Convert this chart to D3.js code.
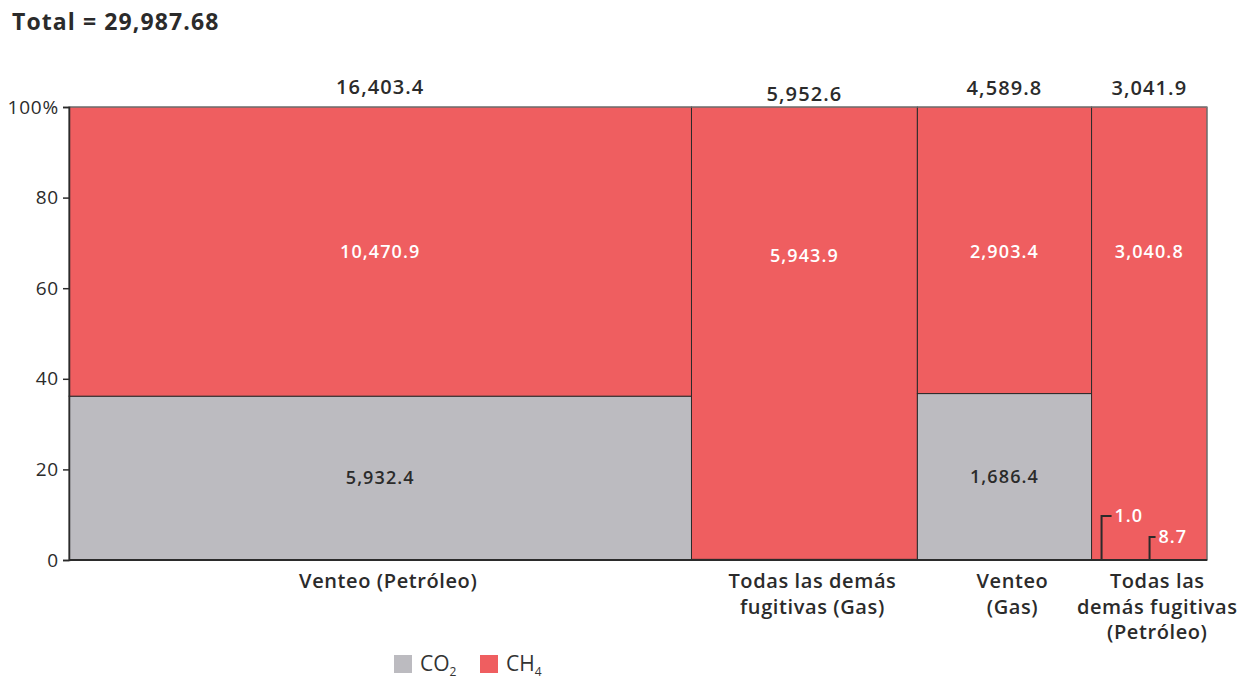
<!DOCTYPE html>
<html><head><meta charset="utf-8">
<script src="https://cdn.jsdelivr.net/npm/d3@7"></script>
<style>
body{margin:0;background:#fff;}
text{font-family:"Open Sans","Noto Sans",sans-serif;}
</style></head>
<body><svg id="c" width="1251" height="681"></svg>
<script>
const categories = [["Venteo (Petróleo)"], ["Todas las demás", "fugitivas (Gas)"], ["Venteo", "(Gas)"], ["Todas las", "demás fugitivas", "(Petróleo)"]];
const totals = [16403.4, 5952.6, 4589.8, 3041.9];
const co2 = [5932.4, 8.7, 1686.4, 1.0];
const ch4 = [10470.9, 5943.9, 2903.4, 3040.8];
const yTicks = [0, 20, 40, 60, 80, 100];
const grandTotal = "29,987.68";

const RED = "#ef5e60", GREY = "#bcbbc0", DARK = "#2b2b2b";
const svg = d3.select("#c");
const L = 69, R = 1207, T = 107, B = 560;
const sumT = d3.sum(totals);
const x = d3.scaleLinear().domain([0, sumT]).range([L, R]);
const y = d3.scaleLinear().domain([0, 100]).range([B, T]);
const cum = [0]; totals.forEach((t, i) => cum.push(cum[i] + t));
const fmt = d3.format(",.1f");

svg.append("text").attr("x", 12).attr("y", 30).attr("font-size", 23).attr("font-weight", 700)
  .attr("letter-spacing", 1.1).attr("fill", DARK).text("Total = " + grandTotal);

totals.forEach((t, i) => {
  const x0 = x(cum[i]), x1 = x(cum[i + 1]);
  const tot = co2[i] + ch4[i];
  const share = co2[i] / tot * 100;
  const g = svg.append("g");
  g.append("rect").attr("x", x0).attr("y", y(share)).attr("width", x1 - x0).attr("height", y(0) - y(share))
    .attr("fill", GREY).attr("stroke", DARK).attr("stroke-width", 1);
  g.append("rect").attr("x", x0).attr("y", y(100)).attr("width", x1 - x0).attr("height", y(share) - y(100))
    .attr("fill", RED).attr("stroke", DARK).attr("stroke-width", 1);
});
svg.append("line").attr("x1", L).attr("x2", R).attr("y1", T).attr("y2", T).attr("stroke", "#8a8a8a").attr("stroke-width", 1);
svg.append("line").attr("x1", R).attr("x2", R).attr("y1", T).attr("y2", B).attr("stroke", "#8a8a8a").attr("stroke-width", 1);

const totalY = [87, 94, 88, 88];
const redPct = [68, 67.2, 68, 68];
totals.forEach((t, i) => {
  const cx = (x(cum[i]) + x(cum[i + 1])) / 2;
  svg.append("text").attr("x", cx).attr("y", totalY[i]).attr("dy", "0.35em").attr("text-anchor", "middle")
    .attr("font-size", 20).attr("font-weight", 600).attr("letter-spacing", 1.1).attr("fill", DARK).text(fmt(t));
  svg.append("text").attr("x", cx).attr("y", y(redPct[i])).attr("dy", "0.35em").attr("text-anchor", "middle")
    .attr("font-size", 18).attr("font-weight", 600).attr("letter-spacing", 1.1).attr("fill", "#fff").text(fmt(ch4[i]));
  const share = co2[i] / (co2[i] + ch4[i]) * 100;
  if (share > 5) {
    svg.append("text").attr("x", cx).attr("y", y(share / 2)).attr("dy", "0.35em").attr("text-anchor", "middle")
      .attr("font-size", 18).attr("font-weight", 600).attr("letter-spacing", 1.1).attr("fill", DARK).text(fmt(co2[i]));
  }
  categories[i].forEach((ln, k) => {
    svg.append("text").attr("x", cx + 8).attr("y", 581 + k * 25.5).attr("dy", "0.35em").attr("text-anchor", "middle")
      .attr("font-size", 20).attr("font-weight", 600).attr("letter-spacing", 0.6).attr("fill", DARK).text(ln);
  });
});

const lastX0 = x(cum[3]);
const callouts = [
  {v: co2[3], lx: lastX0 + 10, ly: 516, hx: 10},
  {v: co2[1], lx: lastX0 + 58, ly: 537, hx: 6}
];
callouts.forEach(c => {
  svg.append("path").attr("d", `M${c.lx},${B}V${c.ly}H${c.lx + c.hx}`).attr("fill", "none")
    .attr("stroke", DARK).attr("stroke-width", 2);
  svg.append("text").attr("x", c.lx + c.hx + 3).attr("y", c.ly).attr("dy", "0.35em")
    .attr("font-size", 18).attr("font-weight", 600).attr("letter-spacing", 1).attr("fill", "#fff").text(fmt(c.v));
});

const ya = svg.append("g").attr("transform", `translate(${L},0)`)
  .call(d3.axisLeft(y).tickValues(yTicks).tickSize(6).tickFormat(d => d === 100 ? "100%" : d));
ya.select(".domain").attr("stroke", DARK).attr("stroke-width", 1.5);
ya.selectAll(".tick line").attr("stroke", DARK).attr("stroke-width", 1.5);
ya.selectAll(".tick text").attr("font-size", 19).attr("letter-spacing", 0.8).attr("fill", DARK)
  .attr("font-family", "'Open Sans','Noto Sans',sans-serif").attr("x", -10);
svg.append("line").attr("x1", L).attr("x2", R).attr("y1", B).attr("y2", B).attr("stroke", DARK).attr("stroke-width", 2);

const leg = [{n: "CO", s: "2", c: GREY, x: 394}, {n: "CH", s: "4", c: RED, x: 480}];
leg.forEach(l => {
  svg.append("rect").attr("x", l.x).attr("y", 655).attr("width", 18).attr("height", 18).attr("fill", l.c);
  const t = svg.append("text").attr("x", l.x + 26).attr("y", 671).attr("font-size", 21).attr("fill", "#333");
  t.append("tspan").text(l.n);
  t.append("tspan").attr("font-size", 12).attr("dy", 5).text(l.s);
});
</script></body></html>
